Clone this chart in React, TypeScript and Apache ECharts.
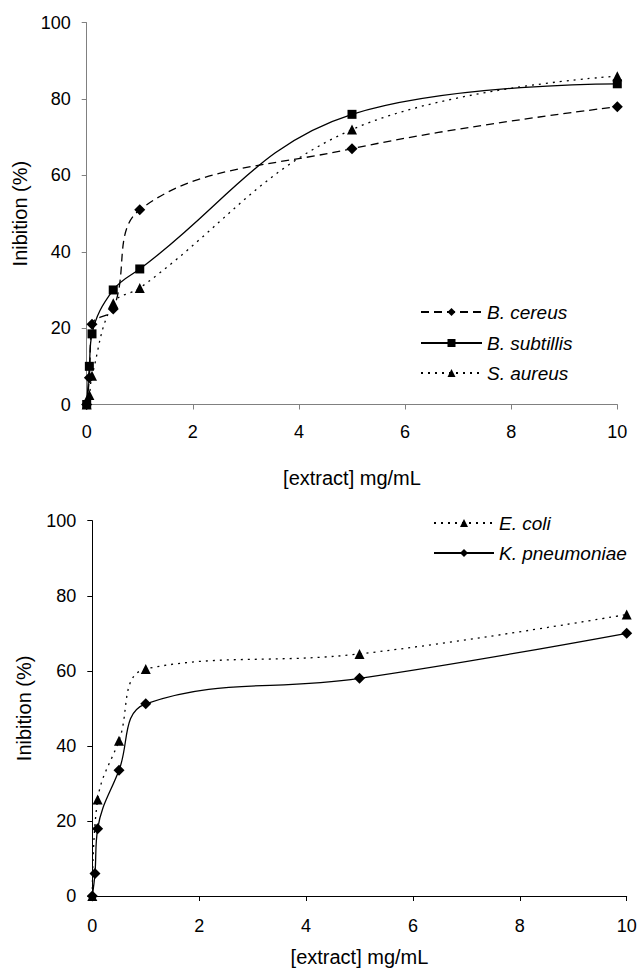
import React, { useEffect, useRef } from "react";
import * as echarts from "echarts";

// ---- Data ----
const xTop = [0, 0.05, 0.1, 0.5, 1, 5, 10];
const bCereus = [0, 7, 21, 25, 51, 67, 78];
const bSubtillis = [0, 10, 18.5, 30, 35.5, 76, 84];
const sAureus = [0, 2.5, 7.5, 26.5, 30.5, 72, 86];

const xEColi = [0, 0.1, 0.5, 1, 5, 10];
const eColi = [0, 25.7, 41.4, 60.5, 64.5, 75];
const xKPneu = [0, 0.05, 0.1, 0.5, 1, 5, 10];
const kPneumoniae = [0, 6, 17.9, 33.5, 51.2, 58, 70];

const yTicks = { min: 0, max: 100, interval: 20 };
const xTicks = { min: 0, max: 10, interval: 2 };

const FONT = "'Liberation Sans', Arial, Helvetica, sans-serif";
const TICK_FS = 18;
const TITLE_FS = 20;
const LEGEND_FS = 19;

const pairs = (xs: number[], ys: number[]) => xs.map((x, i) => [x, ys[i]]);

export default function App() {
  const ref = useRef<HTMLDivElement>(null);
  useEffect(() => {
    if (!ref.current) return;
    const chart = echarts.init(ref.current, undefined, { renderer: "svg" });

    const axisCommon = (color: string) => ({
      axisLine: { show: true, lineStyle: { color, width: 1 } },
      axisTick: { show: true, inside: false, length: 5, lineStyle: { color, width: 1 } },
      splitLine: { show: false },
      nameTextStyle: { color: "#000", fontSize: TITLE_FS, fontFamily: FONT },
    });

    const xAxis = (gridIndex: number, color: string, margin: number, nameGap: number) => ({
      type: "value",
      gridIndex,
      ...xTicks,
      ...axisCommon(color),
      axisLabel: { color: "#000", fontSize: TICK_FS, fontFamily: FONT, margin },
      name: "[extract] mg/mL",
      nameLocation: "middle",
      nameGap,
    });
    const yAxis = (gridIndex: number, color: string, nameGap: number) => ({
      type: "value",
      gridIndex,
      ...yTicks,
      ...axisCommon(color),
      axisLabel: { color: "#000", fontSize: TICK_FS, fontFamily: FONT, margin: 16 },
      name: "Inibition (%)",
      nameLocation: "middle",
      nameGap,
    });

    const lineSeries = (
      name: string,
      data: number[][],
      symbol: string,
      type: any,
      idx: number,
      symbolSize: number
    ) => ({
      name,
      type: "line",
      xAxisIndex: idx,
      yAxisIndex: idx,
      data,
      smooth: 0.4,
      symbol,
      symbolSize,
      showSymbol: true,
      itemStyle: { color: "#000" },
      lineStyle: { color: "#000", width: 1.3, type },
      emphasis: { disabled: true },
    });

    const legendItem = (name: string, left: number, centerY: number, width: number) => ({
      data: [name],
      left,
      top: centerY - 10,
      orient: "horizontal",
      itemWidth: width,
      itemHeight: 10,
      padding: 0,
      selectedMode: false,
      textStyle: {
        fontSize: LEGEND_FS,
        fontStyle: "italic",
        fontFamily: FONT,
        color: "#000",
        lineHeight: 20,
      },
    });

    chart.setOption({
      animation: false,
      backgroundColor: "#fff",
      textStyle: { fontFamily: FONT },
      grid: [
        { left: 86.7, right: 23.7, top: 22.7, height: 381.8 },
        { left: 92.3, right: 14.3, top: 520.7, height: 382.6 },
      ],
      xAxis: [xAxis(0, "#808080", 18, 63), xAxis(1, "#000", 21, 51)],
      yAxis: [yAxis(0, "#808080", 52), yAxis(1, "#000", 58)],
      legend: [
        legendItem("B. cereus", 420, 312, 61),
        legendItem("B. subtillis", 420, 343, 61),
        legendItem("S. aureus", 420, 373, 61),
        legendItem("E. coli", 433, 523, 60),
        legendItem("K. pneumoniae", 433, 553, 60),
      ],
      series: [
        lineSeries("B. cereus", pairs(xTop, bCereus), "diamond", [8, 5], 0, 11),
        lineSeries("B. subtillis", pairs(xTop, bSubtillis), "rect", "solid", 0, 9),
        lineSeries("S. aureus", pairs(xTop, sAureus), "triangle", [2, 5], 0, 10),
        lineSeries("E. coli", pairs(xEColi, eColi), "triangle", [2, 5], 1, 10),
        lineSeries("K. pneumoniae", pairs(xKPneu, kPneumoniae), "diamond", "solid", 1, 11),
      ],
    });

    return () => chart.dispose();
  }, []);

  return (
    <div
      ref={ref}
      style={{ position: "fixed", left: 0, top: 0, width: 641, height: 968, background: "#fff" }}
    />
  );
}
